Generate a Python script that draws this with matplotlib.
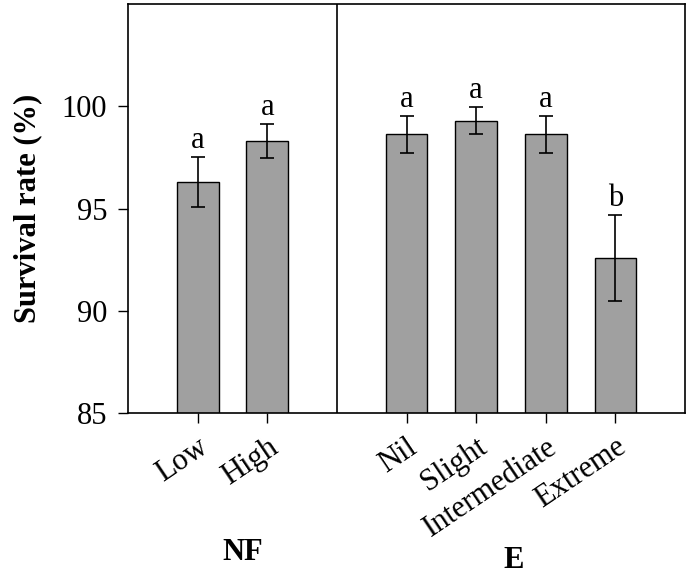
import matplotlib
matplotlib.use('Agg')
import matplotlib.pyplot as plt

plt.rcParams['font.family'] = ['Liberation Serif', 'DejaVu Serif']

# data
labels = ['Low', 'High', 'Nil', 'Slight', 'Intermediate', 'Extreme']
positions = [1, 2, 4, 5, 6, 7]
survival = [96.3, 98.3, 98.63, 99.28, 98.63, 92.6]
errors = [1.23, 0.82, 0.9, 0.66, 0.9, 2.1]
letters = ['a', 'a', 'a', 'a', 'a', 'b']

fig = plt.figure(figsize=(6.9, 5.73), dpi=100)
ax = fig.add_axes([0.1855, 0.2792, 0.8073, 0.7138])

ax.bar(positions, survival, width=0.6, color='#a0a0a0', edgecolor='black', linewidth=1.0,
       yerr=errors, capsize=5, error_kw=dict(elinewidth=1.2, capthick=1.2, ecolor='black'))

for x, v, e, t in zip(positions, survival, errors, letters):
    ax.text(x, v + e + 0.1, t, ha='center', va='bottom', fontsize=22)

ax.axvline(3, color='black', linewidth=1.2)

ax.set_xlim(0, 8)
ax.set_ylim(85, 105)
ax.set_yticks([85, 90, 95, 100])
ax.set_xticks(positions)
ax.set_xticklabels(labels, rotation=34, ha='right', va='top', rotation_mode='anchor')
ax.tick_params(axis='both', direction='out', length=7, width=1, labelsize=22, top=False, right=False)
ax.tick_params(axis='x', pad=7)
ax.tick_params(axis='y', pad=8)
for s in ax.spines.values():
    s.set_linewidth(1.2)

ax.set_ylabel('Survival rate (%)', fontsize=22, fontweight='bold', labelpad=14)

fig.text(243 / 690, 1 - 553 / 573, 'NF', ha='center', va='center', fontsize=22, fontweight='bold')
fig.text(514 / 690, 1 - 560 / 573, 'E', ha='center', va='center', fontsize=22, fontweight='bold')

fig.savefig('out.png', dpi=100)
